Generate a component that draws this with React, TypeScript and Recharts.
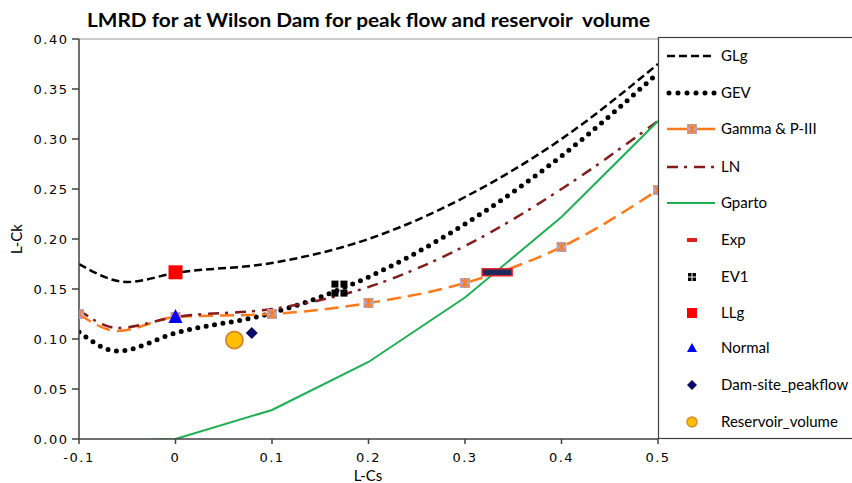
import React from 'react';
import { ComposedChart, Line, Scatter, XAxis, YAxis, ReferenceLine } from 'recharts';

// ---- data ----
const glgX = [-0.1, -0.05, 0, 0.1, 0.2, 0.3, 0.4, 0.5];
const glgY = [0.175, 0.157, 0.166, 0.176, 0.2, 0.242, 0.3, 0.375];

const gevX = [-0.1, -0.06, 0, 0.1, 0.2, 0.3, 0.4, 0.5];
const gevY = [0.107, 0.088, 0.106, 0.126, 0.162, 0.215, 0.283, 0.366];

const gammaX = [-0.1, -0.06, 0, 0.1, 0.2, 0.3, 0.4, 0.5];
const gammaY = [0.125, 0.108, 0.122, 0.125, 0.136, 0.156, 0.192, 0.249];
const gammaMarked = [true, false, true, true, true, true, true, true];

const lnX = [-0.1, -0.06, 0, 0.1, 0.2, 0.3, 0.4, 0.5];
const lnY = [0.129, 0.111, 0.122, 0.13, 0.152, 0.193, 0.25, 0.318];

const gpartoX = [-0.1, 0, 0.1, 0.2, 0.3, 0.4, 0.5];
const gpartoY = [-0.003, 0, 0.029, 0.077, 0.1415, 0.222, 0.318];

const expPt = { x: 0.3333, y: 0.1667 };
const ev1Pt = { x: 0.1699, y: 0.1504 };
const llgPt = { x: 0, y: 0.1667 };
const normalPt = { x: 0, y: 0.1226 };
const damPt = { x: 0.079, y: 0.106 };
const resPt = { x: 0.061, y: 0.099 };

const xTicks = [-0.1, 0, 0.1, 0.2, 0.3, 0.4, 0.5];
const yTicks = [0, 0.05, 0.1, 0.15, 0.2, 0.25, 0.3, 0.35, 0.4];

const legendNames = ['GLg', 'GEV', 'Gamma & P-III', 'LN', 'Gparto', 'Exp', 'EV1', 'LLg', 'Normal', 'Dam-site_peakflow', 'Reservoir_volume'];

const titleText = 'LMRD for at Wilson Dam for peak flow and reservoir  volume';

// ---- helpers ----
const pts = (xs: number[], ys: number[]) => xs.map((x, i) => ({ x, y: ys[i] }));
const glgData = pts(glgX, glgY);
const gevData = pts(gevX, gevY);
const gammaData = gammaX.map((x, i) => ({ x, y: gammaY[i], m: gammaMarked[i] }));
const lnData = pts(lnX, lnY);
const gpartoData = pts(gpartoX, gpartoY);

const ORANGE = '#FF7A1A';
const LNRED = '#861B1B';
const GREEN = '#1DB050';

const gammaMark = (cx: number, cy: number, key: string, s = 5) => (
  <g key={key}>
    <rect x={cx - s} y={cy - s} width={2 * s} height={2 * s} fill="#B3A6C6" />
    <path
      d={`M${cx - s + 1},${cy - s + 1}L${cx + s - 1},${cy + s - 1}M${cx + s - 1},${cy - s + 1}L${cx - s + 1},${cy + s - 1}M${cx},${cy - s}L${cx},${cy + s}`}
      stroke={ORANGE}
      strokeWidth={1.5}
    />
  </g>
);

const expShape = (p: any) => (
  <rect x={p.cx - 15} y={p.cy - 3.5} width={30} height={7} fill="#1F2A5C" stroke="#E8202A" strokeWidth={1.5} />
);
const ev1Shape = (p: any) => (
  <g>
    <rect x={p.cx - 8} y={p.cy - 8} width={7} height={7} fill="#000" />
    <rect x={p.cx + 1} y={p.cy - 8} width={7} height={7} fill="#000" />
    <rect x={p.cx - 8} y={p.cy + 1} width={7} height={7} fill="#000" />
    <rect x={p.cx + 1} y={p.cy + 1} width={7} height={7} fill="#000" />
  </g>
);
const llgShape = (p: any) => <rect x={p.cx - 7} y={p.cy - 7} width={14} height={14} fill="#FF0000" />;
const normalShape = (p: any) => (
  <path d={`M${p.cx},${p.cy - 7.5}L${p.cx + 7},${p.cy + 6.5}L${p.cx - 7},${p.cy + 6.5}Z`} fill="#0000FF" />
);
const damShape = (p: any) => (
  <path d={`M${p.cx},${p.cy - 6}L${p.cx + 6},${p.cy}L${p.cx},${p.cy + 6}L${p.cx - 6},${p.cy}Z`} fill="#0A0A6B" />
);
const resShape = (p: any) => <circle cx={p.cx} cy={p.cy} r={8.5} fill="#FFC000" stroke="#D98B2B" strokeWidth={2} />;

const tickFont = { fontFamily: 'DejaVu Sans', fontSize: 13, fill: '#000' };

const YTick = (p: any) => (
  <text x={p.x} y={p.y} dy={4.5} textAnchor="end" letterSpacing={1.5} {...tickFont}>
    {Number(p.payload.value).toFixed(2)}
  </text>
);
const XTick = (p: any) => (
  <text x={p.x} y={p.y} dy="0.71em" textAnchor="middle" letterSpacing={1.5} {...tickFont}>
    {p.payload.value === 0 ? '0' : String(p.payload.value)}
  </text>
);

const legendFont = { fontFamily: 'Lato', fontSize: 15, fill: '#000' };

const Overlay = () => {
  const x0 = 667;
  const x1 = 715;
  const mx = 692;
  const tx = 721;
  const ys = [56, 93, 129, 167, 203, 240, 277, 313, 348, 385, 422];
  return (
    <svg width={852} height={483} style={{ position: 'absolute', left: 0, top: 0, pointerEvents: 'none' }}>
      <text
        x={87}
        y={27}
        fontFamily="Lato"
        fontWeight={700}
        fontSize={19}
        fill="#000"
        textLength={563}
        lengthAdjust="spacingAndGlyphs"
        style={{ whiteSpace: 'pre' }}
      >
        {titleText}
      </text>
      <text x={368} y={481} textAnchor="middle" {...legendFont}>L-Cs</text>
      <text x={22} y={239} textAnchor="middle" transform="rotate(-90 22 239)" {...legendFont}>L-Ck</text>
      <rect x={658.5} y={37.5} width={210} height={401} fill="#fff" stroke="#404040" strokeWidth={1.2} />
      <line x1={x0} x2={x1} y1={ys[0]} y2={ys[0]} stroke="#000" strokeWidth={2.5} strokeDasharray="8 4" />
      <line x1={x0 + 2} x2={x1} y1={ys[1]} y2={ys[1]} stroke="#000" strokeWidth={5} strokeLinecap="round" strokeDasharray="0 9" />
      <line x1={x0} x2={x1} y1={ys[2]} y2={ys[2]} stroke={ORANGE} strokeWidth={2.5} />
      {gammaMark(mx, ys[2], 'lg', 5)}
      <line x1={x0} x2={x1} y1={ys[3]} y2={ys[3]} stroke={LNRED} strokeWidth={2.5} strokeDasharray="11 6 3 7" />
      <line x1={x0} x2={x1} y1={ys[4]} y2={ys[4]} stroke={GREEN} strokeWidth={2} />
      <rect x={mx - 5} y={ys[5] - 2} width={10} height={4} fill="#E02020" />
      <g>
        <rect x={mx - 4} y={ys[6] - 4} width={3.5} height={3.5} fill="#000" />
        <rect x={mx + 0.5} y={ys[6] - 4} width={3.5} height={3.5} fill="#000" />
        <rect x={mx - 4} y={ys[6] + 0.5} width={3.5} height={3.5} fill="#000" />
        <rect x={mx + 0.5} y={ys[6] + 0.5} width={3.5} height={3.5} fill="#000" />
      </g>
      <rect x={mx - 5} y={ys[7] - 5} width={10} height={10} fill="#FF0000" />
      <path d={`M${mx},${ys[8] - 5}L${mx + 5},${ys[8] + 4}L${mx - 5},${ys[8] + 4}Z`} fill="#0000FF" />
      <path d={`M${mx},${ys[9] - 5}L${mx + 5},${ys[9]}L${mx},${ys[9] + 5}L${mx - 5},${ys[9]}Z`} fill="#0A0A6B" />
      <circle cx={mx} cy={ys[10]} r={5} fill="#FFC000" stroke="#D98B2B" strokeWidth={1.5} />
      {legendNames.map((n, i) => (
        <text key={n} x={tx} y={ys[i] + 5} {...legendFont}>{n}</text>
      ))}
    </svg>
  );
};

export default function App() {
  return (
    <div style={{ position: 'absolute', left: 0, top: 0, width: 852, height: 483, background: '#fff' }}>
      <ComposedChart width={852} height={483} margin={{ top: 39, right: 194, bottom: 14, left: 19 }}>
        <XAxis
          dataKey="x"
          type="number"
          domain={[-0.1, 0.5]}
          ticks={xTicks}
          allowDataOverflow
          height={30}
          tickSize={5}
          tickMargin={9}
          stroke="#404040"
          strokeWidth={1.5}
          tick={<XTick />}
        />
        <YAxis
          type="number"
          domain={[0, 0.4]}
          ticks={yTicks}
          allowDataOverflow
          width={60}
          tickSize={7}
          tickMargin={3.5}
          stroke="#404040"
          strokeWidth={1.5}
          tick={<YTick />}
        />
        <ReferenceLine y={0.4} stroke="#9A9A9A" strokeWidth={1.2} />
        <Line data={glgData} dataKey="y" type="monotone" stroke="#000" strokeWidth={2.5} strokeDasharray="8 4" dot={false} isAnimationActive={false} />
        <Line data={gevData} dataKey="y" type="monotone" stroke="#000" strokeWidth={5} strokeLinecap="round" strokeDasharray="0 8.5" dot={false} isAnimationActive={false} />
        <Line
          data={gammaData}
          dataKey="y"
          type="monotone"
          stroke={ORANGE}
          strokeWidth={2.5}
          strokeDasharray="14 7"
          dot={(p: any) => (p.payload && p.payload.m ? gammaMark(p.cx, p.cy, 'gd' + p.index) : <g key={'gn' + p.index} />)}
          isAnimationActive={false}
        />
        <Line data={lnData} dataKey="y" type="monotone" stroke={LNRED} strokeWidth={2.5} strokeDasharray="11 6 3 7" dot={false} isAnimationActive={false} />
        <Line data={gpartoData} dataKey="y" type="linear" stroke={GREEN} strokeWidth={2} dot={false} isAnimationActive={false} />
        <Scatter data={[expPt]} dataKey="y" shape={expShape} isAnimationActive={false} />
        <Scatter data={[ev1Pt]} dataKey="y" shape={ev1Shape} isAnimationActive={false} />
        <Scatter data={[llgPt]} dataKey="y" shape={llgShape} isAnimationActive={false} />
        <Scatter data={[normalPt]} dataKey="y" shape={normalShape} isAnimationActive={false} />
        <Scatter data={[damPt]} dataKey="y" shape={damShape} isAnimationActive={false} />
        <Scatter data={[resPt]} dataKey="y" shape={resShape} isAnimationActive={false} />
      </ComposedChart>
      <Overlay />
    </div>
  );
}
